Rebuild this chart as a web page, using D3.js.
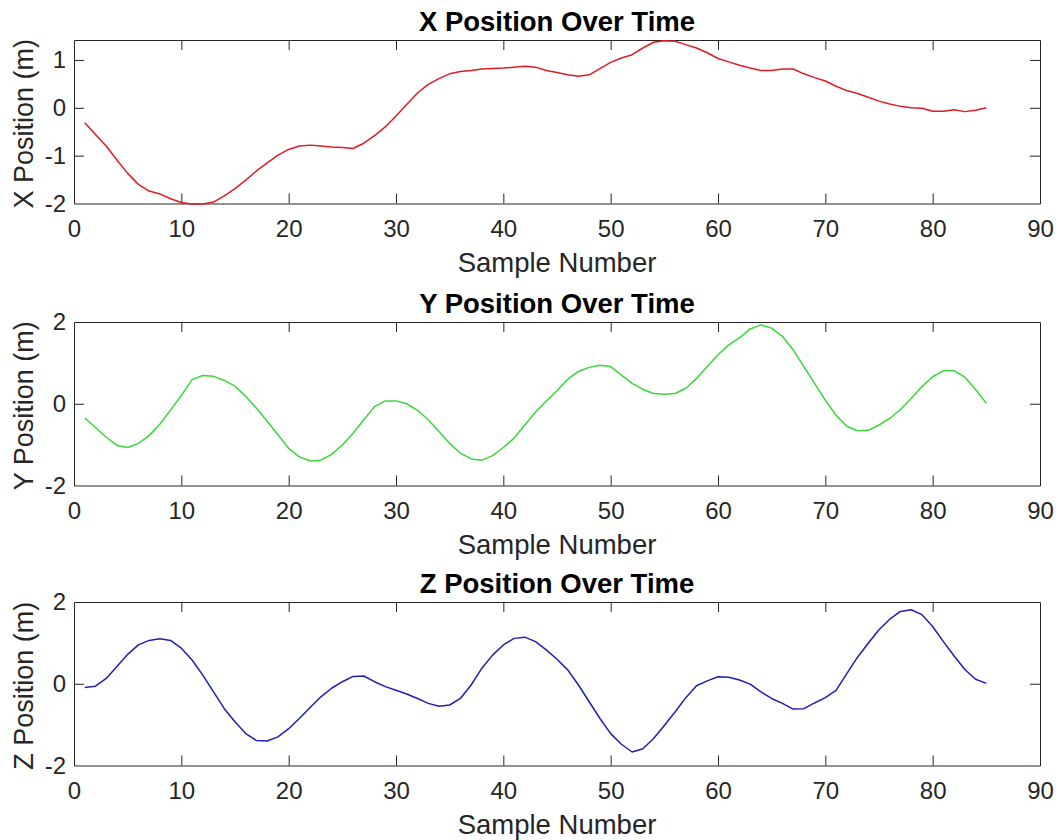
<!DOCTYPE html>
<html lang="en">
<head>
<meta charset="UTF-8">
<title>Position Over Time</title>
<script src="https://d3js.org/d3.v7.min.js"></script>
<style>
  html, body { margin: 0; padding: 0; background: #ffffff; }
  svg { display: block; }
  text { font-family: 'Liberation Sans', Arial, Helvetica, sans-serif; fill: #262626; }
  .title { font-weight: bold; fill: #000000; }
  .axis path, .axis line { stroke: #262626; stroke-width: 1; }
</style>
</head>
<body>
<svg id="chart"></svg>
<script>
// samples 1..85
let samples = d3.range(1, 86)

let xPos = [
  -0.31, -0.56, -0.80, -1.09, -1.37, -1.60, -1.74, -1.80, -1.90, -1.98,
  -2.01, -2.01, -1.97, -1.84, -1.69, -1.51, -1.32, -1.15, -0.99, -0.87,
  -0.80, -0.78, -0.80, -0.82, -0.83, -0.85, -0.74, -0.58, -0.40, -0.17,
   0.07,  0.31,  0.49,  0.61,  0.71,  0.76,  0.78,  0.81,  0.82,  0.83,
   0.85,  0.87,  0.85,  0.78,  0.74,  0.69,  0.66,  0.69,  0.82,  0.95,
   1.04,  1.11,  1.25,  1.37,  1.40,  1.39,  1.32,  1.25,  1.15,  1.03,
   0.96,  0.89,  0.83,  0.78,  0.78,  0.81,  0.81,  0.71,  0.63,  0.56,
   0.45,  0.36,  0.30,  0.22,  0.14,  0.08,  0.03,  0.00, -0.01, -0.07,
  -0.07, -0.04, -0.08, -0.05,  0.00
]

let yPos = [
  -0.35, -0.58, -0.82, -1.02, -1.07, -0.97, -0.78, -0.50, -0.15,  0.20,
   0.59,  0.69,  0.67,  0.57,  0.43,  0.18, -0.11, -0.43, -0.76, -1.09,
  -1.30, -1.40, -1.38, -1.24, -1.01, -0.72, -0.39, -0.07,  0.07,  0.07,
   0.00, -0.16, -0.39, -0.68, -0.97, -1.21, -1.35, -1.38, -1.27, -1.07,
  -0.84, -0.52, -0.20,  0.06,  0.32,  0.60,  0.79,  0.89,  0.94,  0.91,
   0.70,  0.50,  0.35,  0.25,  0.23,  0.25,  0.38,  0.62,  0.91,  1.20,
   1.44,  1.61,  1.83,  1.93,  1.85,  1.65,  1.32,  0.91,  0.50,  0.09,
  -0.28, -0.55, -0.66, -0.65, -0.52, -0.36, -0.14,  0.13,  0.42,  0.66,
   0.81,  0.81,  0.65,  0.35,  0.01
]

let zPos = [
  -0.09, -0.06,  0.13,  0.42,  0.72,  0.95,  1.06,  1.10,  1.06,  0.87,
   0.58,  0.21, -0.20, -0.61, -0.93, -1.22, -1.39, -1.40, -1.30, -1.10,
  -0.85, -0.58, -0.32, -0.11,  0.05,  0.18,  0.19,  0.05, -0.07, -0.16,
  -0.25, -0.36, -0.48, -0.55, -0.52, -0.36, -0.03,  0.38,  0.70,  0.95,
   1.11,  1.14,  1.03,  0.83,  0.60,  0.34, -0.03, -0.44, -0.85, -1.22,
  -1.48, -1.67, -1.59, -1.34, -1.02, -0.69, -0.34, -0.05,  0.07,  0.17,
   0.16,  0.09, -0.01, -0.20, -0.36, -0.48, -0.62, -0.61, -0.47, -0.34,
  -0.16,  0.25,  0.65,  0.99,  1.32,  1.58,  1.77,  1.81,  1.69,  1.40,
   1.03,  0.68,  0.35,  0.11,  0.01
]

let xTicks = [0, 10, 20, 30, 40, 50, 60, 70, 80, 90]
let xDomain = [0, 90]

let titles = ['X Position Over Time', 'Y Position Over Time', 'Z Position Over Time']
let yLabels = ['X Position (m)', 'Y Position (m)', 'Z Position (m)']
let yDomains = [[-2, 1.417], [-2, 2], [-2, 2]]
let yTickSets = [[-2, -1, 0, 1], [-2, 0, 2], [-2, 0, 2]]
let series = [xPos, yPos, zPos]
let colors = ['#e01b24', '#3ad63a', '#1f1fb4']

let width = 1060
let height = 840
let left = 74
let right = 1040
let tops = [40, 322, 602]
let plotH = 163.5
let tickLen = 10

let svg = d3.select('#chart')
    .attr('width', width)
    .attr('height', height)

let xScale = d3.scaleLinear()
    .domain(xDomain)
    .range([left, right])

let fmt = (d) => String(d)

let drawPlot = (i) => {
    let top = tops[i]
    let bottom = top + plotH

    let yScale = d3.scaleLinear()
        .domain(yDomains[i])
        .range([bottom, top])

    let g = svg.append('g')

    // bottom axis with labels
    g.append('g')
        .attr('class', 'axis')
        .attr('transform', 'translate(0,' + bottom + ')')
        .call(d3.axisBottom(xScale)
            .tickValues(xTicks)
            .tickFormat(fmt)
            .tickSizeInner(-tickLen)
            .tickSizeOuter(0)
            .tickPadding(16))
        .selectAll('text')
        .style('font-size', '24px')
        .attr('fill', '#262626')

    // top axis, ticks only
    g.append('g')
        .attr('class', 'axis')
        .attr('transform', 'translate(0,' + top + ')')
        .call(d3.axisTop(xScale)
            .tickValues(xTicks.slice(1, -1))
            .tickFormat('')
            .tickSizeInner(-tickLen)
            .tickSizeOuter(0))

    // left axis with labels
    g.append('g')
        .attr('class', 'axis')
        .attr('transform', 'translate(' + left + ',0)')
        .call(d3.axisLeft(yScale)
            .tickValues(yTickSets[i])
            .tickFormat(fmt)
            .tickSizeInner(-tickLen)
            .tickSizeOuter(0)
            .tickPadding(8))
        .selectAll('text')
        .style('font-size', '24px')
        .attr('fill', '#262626')

    // right axis, ticks only
    g.append('g')
        .attr('class', 'axis')
        .attr('transform', 'translate(' + right + ',0)')
        .call(d3.axisRight(yScale)
            .tickValues(yTickSets[i])
            .tickFormat('')
            .tickSizeInner(-tickLen)
            .tickSizeOuter(0))

    // drop ticks that sit on the box corners
    g.selectAll('.tick line')
        .filter((d, j, nodes) => {
            let tr = nodes[j].parentNode.parentNode.getAttribute('transform')
            if (tr.indexOf('translate(0,') === 0) {
                return d === xDomain[0] || d === xDomain[1]
            }
            return d === yDomains[i][0] || d === yDomains[i][1]
        })
        .remove()

    let line = d3.line()
        .x((d, j) => xScale(samples[j]))
        .y((d) => yScale(d))

    g.append('path')
        .datum(series[i])
        .attr('fill', 'none')
        .attr('stroke', colors[i])
        .attr('stroke-width', 1.5)
        .attr('stroke-linejoin', 'round')
        .attr('d', line)

    g.append('text')
        .attr('class', 'title')
        .attr('x', (left + right) / 2)
        .attr('y', top - 9)
        .attr('text-anchor', 'middle')
        .style('font-size', '27.5px')
        .text(titles[i])

    g.append('text')
        .attr('x', (left + right) / 2)
        .attr('y', bottom + 68)
        .attr('text-anchor', 'middle')
        .style('font-size', '27.5px')
        .text('Sample Number')

    g.append('text')
        .attr('transform', 'translate(33,' + ((top + bottom) / 2 + 2) + ') rotate(-90)')
        .attr('text-anchor', 'middle')
        .style('font-size', '27px')
        .text(yLabels[i])
}

titles.forEach((t, i) => drawPlot(i))
</script>
</body>
</html>
